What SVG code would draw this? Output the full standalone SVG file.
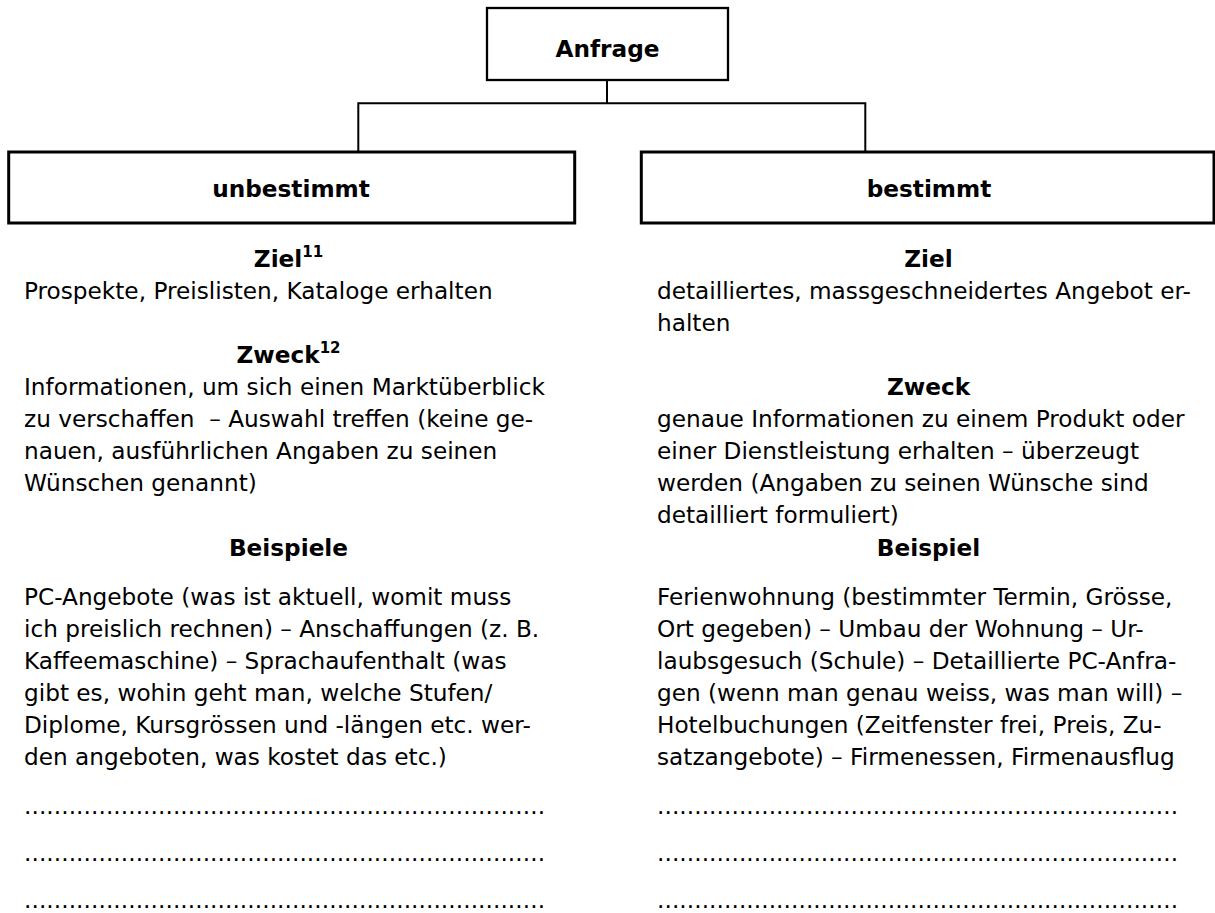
<svg xmlns="http://www.w3.org/2000/svg" width="1215" height="913" viewBox="0 0 1215 913">
<style>
text{font-family:"DejaVu Sans","Verdana",sans-serif;fill:#000;}
.b{font-weight:bold;font-size:23.2px;}
.t{font-size:23.2px;}
.h{font-weight:bold;font-size:23.2px;text-anchor:middle;}
.sup{font-size:15px;}
.box{fill:#fff;stroke:#000;}
.conn{fill:none;stroke:#000;stroke-width:2;}
</style>
<rect width="1215" height="913" fill="#fff"/>
<g id="connectors">
<path class="conn" d="M607,80 V103.3 M358.3,152 V103.3 H865.3 V152"/>
</g>
<g id="anfrage">
<rect class="box" x="487" y="8" width="241" height="72" stroke-width="2.3"/>
<text class="h" x="607.5" y="57">Anfrage</text>
</g>
<g id="unbestimmt">
<rect class="box" x="8.7" y="152" width="566" height="71" stroke-width="3"/>
<text class="h" x="291" y="197">unbestimmt</text>
</g>
<g id="bestimmt">
<rect class="box" x="641.3" y="152" width="572.7" height="71" stroke-width="3"/>
<text class="h" x="929" y="197">bestimmt</text>
</g>
<g id="left-text">
<text class="h" x="288.5" y="267">Ziel<tspan class="sup" dy="-10">11</tspan></text>
<text class="t" x="24" y="299">Prospekte, Preislisten, Kataloge erhalten</text>
<text class="h" x="288.5" y="363">Zweck<tspan class="sup" dy="-10">12</tspan></text>
<text class="t" x="24" y="395">Informationen, um sich einen Marktüberblick</text>
<text class="t" x="24" y="427">zu verschaffen&#160; – Auswahl treffen (keine ge-</text>
<text class="t" x="24" y="459">nauen, ausführlichen Angaben zu seinen</text>
<text class="t" x="24" y="491">Wünschen genannt)</text>
<text class="h" x="288.5" y="556">Beispiele</text>
<text class="t" x="24" y="605">PC-Angebote (was ist aktuell, womit muss</text>
<text class="t" x="24" y="637">ich preislich rechnen) – Anschaffungen (z. B.</text>
<text class="t" x="24" y="669">Kaffeemaschine) – Sprachaufenthalt (was</text>
<text class="t" x="24" y="701">gibt es, wohin geht man, welche Stufen/</text>
<text class="t" x="24" y="733">Diplome, Kursgrössen und -längen etc. wer-</text>
<text class="t" x="24" y="765">den angeboten, was kostet das etc.)</text>
<text class="t" x="24" y="814" textLength="521" lengthAdjust="spacing">......................................................................</text>
<text class="t" x="24" y="861" textLength="521" lengthAdjust="spacing">......................................................................</text>
<text class="t" x="24" y="908" textLength="521" lengthAdjust="spacing">......................................................................</text>
</g>
<g id="right-text">
<text class="h" x="928.5" y="267">Ziel</text>
<text class="t" x="657" y="299">detailliertes, massgeschneidertes Angebot er-</text>
<text class="t" x="657" y="331">halten</text>
<text class="h" x="928.5" y="395">Zweck</text>
<text class="t" x="657" y="427">genaue Informationen zu einem Produkt oder</text>
<text class="t" x="657" y="459">einer Dienstleistung erhalten – überzeugt</text>
<text class="t" x="657" y="491">werden (Angaben zu seinen Wünsche sind</text>
<text class="t" x="657" y="523">detailliert formuliert)</text>
<text class="h" x="928.5" y="556">Beispiel</text>
<text class="t" x="657" y="605">Ferienwohnung (bestimmter Termin, Grösse,</text>
<text class="t" x="657" y="637">Ort gegeben) – Umbau der Wohnung – Ur-</text>
<text class="t" x="657" y="669">laubsgesuch (Schule) – Detaillierte PC-Anfra-</text>
<text class="t" x="657" y="701">gen (wenn man genau weiss, was man will) –</text>
<text class="t" x="657" y="733">Hotelbuchungen (Zeitfenster frei, Preis, Zu-</text>
<text class="t" x="657" y="765">satzangebote) – Firmenessen, Firmenausflug</text>
<text class="t" x="657" y="814" textLength="521" lengthAdjust="spacing">......................................................................</text>
<text class="t" x="657" y="861" textLength="521" lengthAdjust="spacing">......................................................................</text>
<text class="t" x="657" y="908" textLength="521" lengthAdjust="spacing">......................................................................</text>
</g>
</svg>
